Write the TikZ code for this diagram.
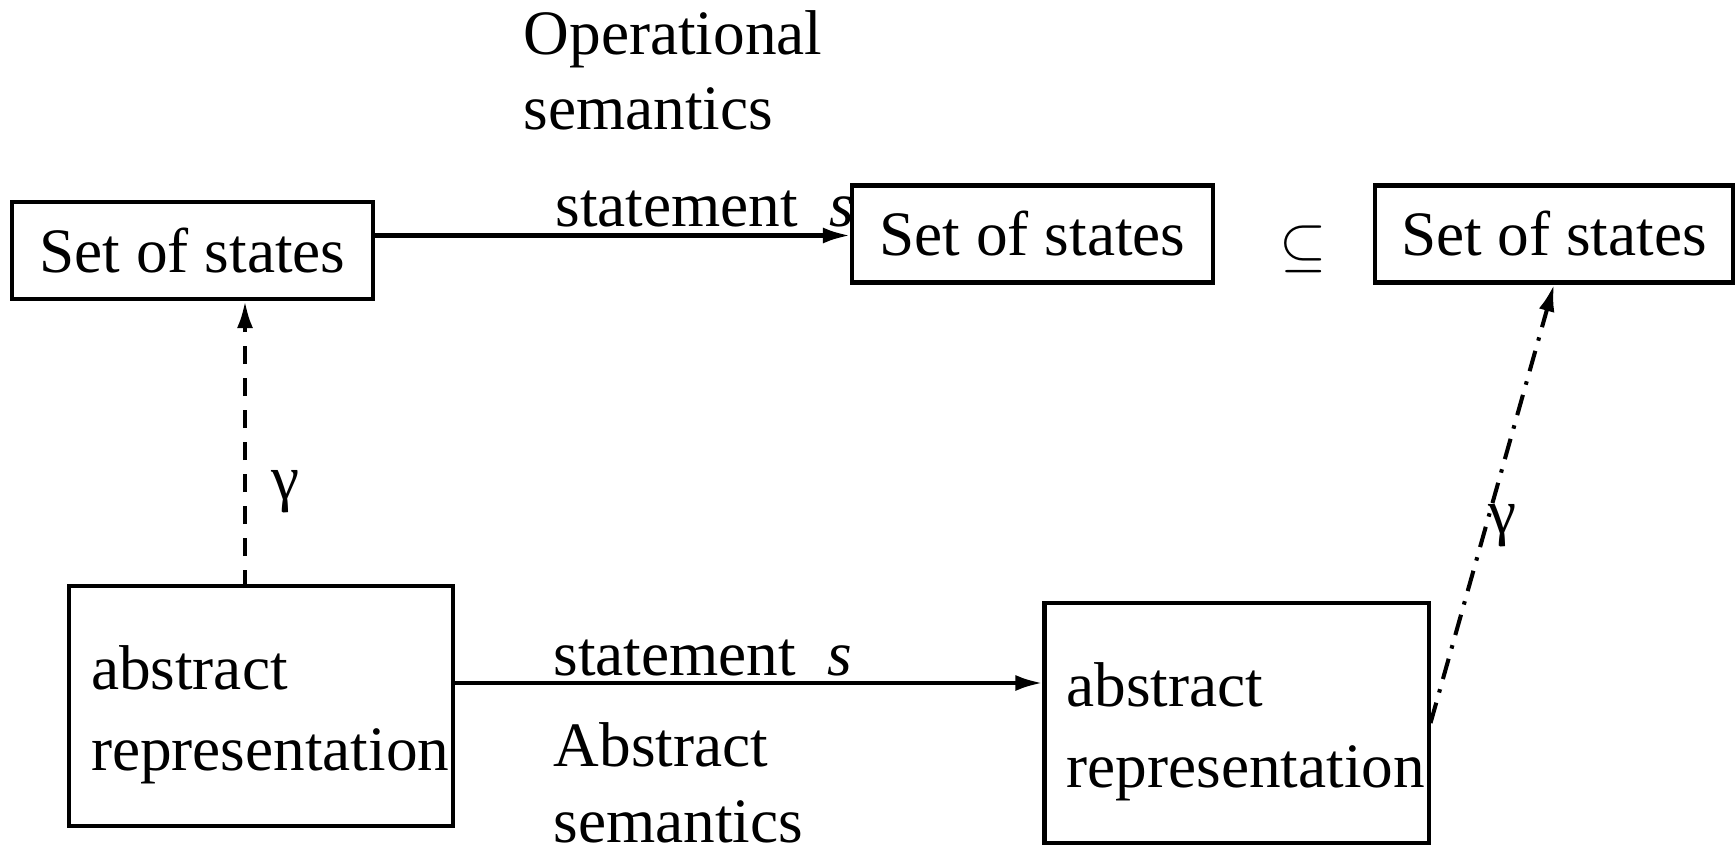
\documentclass[tikz,border=0pt]{standalone}
\usepackage{fontspec}
\setmainfont{Liberation Serif}
\usepackage{tikz}
\usetikzlibrary{
  arrows.meta,
  positioning
}
\tikzset{
  arrow/.style    = {-{Latex[length=0.27cm, width=0.16cm]}, line width=1.15pt},
  gmap/.style     = {arrow, dash pattern=on 5.1pt off 4pt},
  gmapdot/.style  = {arrow, dash pattern=on 6pt off 3pt on 1pt off 3pt},
  stbox/.style    = {draw, line width=1.15pt, minimum width=3.61cm,
                     minimum height=0.97cm, inner sep=0pt,
                     font=\fontsize{18}{23}\selectfont},
  absbox/.style   = {draw, line width=1.15pt, minimum width=3.84cm,
                     minimum height=2.40cm, text width=3.4cm,
                     inner xsep=0pt, align=left, text depth=22pt,
                     font=\fontsize{18}{23}\selectfont},
  lbl/.style      = {inner sep=0pt, align=left, anchor=base west,
                     font=\fontsize{18}{21.5}\selectfont},
}

\begin{document}
\begin{tikzpicture}
\useasboundingbox (0,0) rectangle (17.35,8.51);

% ========== TOP: concrete states ==========
\node[stbox] (sA) at (1.925,6.005) {Set of states};
\node[stbox] (sB) at (10.325,6.17) {Set of states};
\node[stbox, minimum width=3.58cm] (sC) at (15.54,6.17) {Set of states};
\node[font=\fontsize{18}{22}\selectfont] (incl) at (13.03,6.02) {$\subseteq$};

\draw[arrow] ([yshift=0.15cm]sA.east) -- ([yshift=0.15cm]sA.east -| sB.west);

\node[lbl] (lop) at (5.23,7.21) {Operational\\semantics};
\node[lbl] (ltop) at (5.55,6.24) {statement~~\textit{s}};

% ========== BOTTOM: abstract representations ==========
\node[absbox] (sD) at (2.61,1.45) {abstract\\representation};
\node[absbox] (sE) at (12.365,1.28) {abstract\\representation};

\draw[arrow] ([yshift=0.23cm]sD.east) -- ([yshift=0.23cm]sD.east -| sE.west);

\node[lbl] (lbot) at (5.53,1.76) {statement~~\textit{s}};
\node[lbl] (labs) at (5.53,0.09) {Abstract\\semantics};

% ========== concretisation ==========
\draw[gmap] (sA.south -| 2.45,0) ++(0,-2.87) coordinate (gfoot) -- (gfoot |- sA.south);
\node[font=\fontsize{18}{22}\selectfont] (gl) at (2.85,3.59) {γ};

\draw[gmapdot] (sE.east) -- (sC.south);
\node[font=\fontsize{18}{22}\selectfont] (gr) at (15.02,3.25) {γ};

\end{tikzpicture}
\end{document}
